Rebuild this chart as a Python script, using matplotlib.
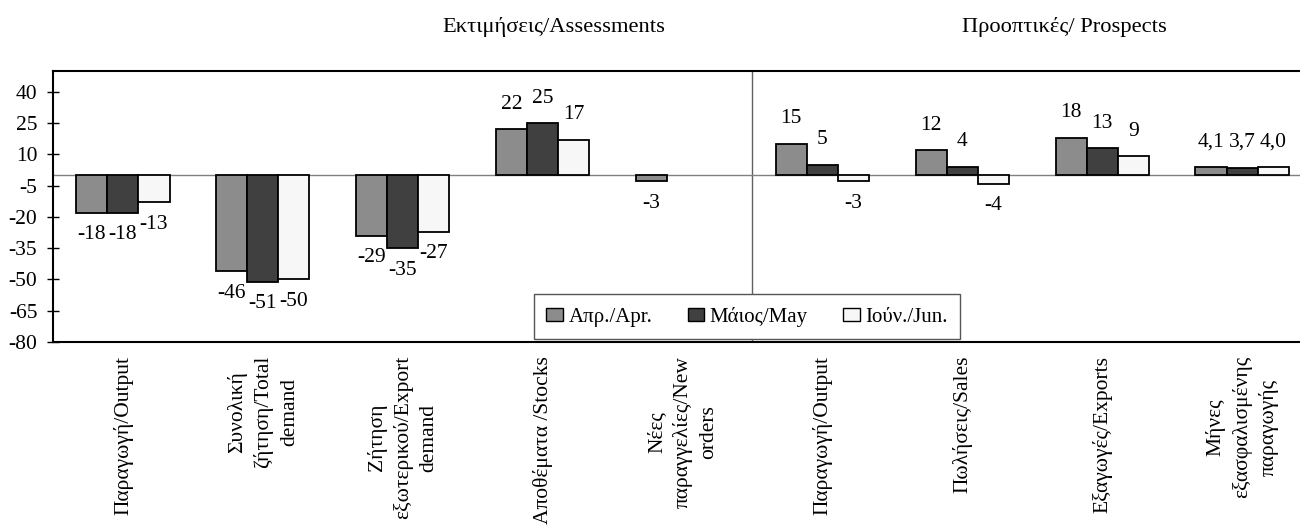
import numpy as np
import matplotlib
matplotlib.use('Agg')
import matplotlib.pyplot as plt
from matplotlib.patches import Patch

plt.rcParams['font.family'] = ['Liberation Serif', 'DejaVu Serif']
plt.rcParams['axes.unicode_minus'] = False

categories = ["Παραγωγή/Output",
              "Συνολική\nζήτηση/Total\ndemand",
              "Ζήτηση\nεξωτερικού/Export\ndemand",
              "Αποθέματα /Stocks",
              "Νέες\nπαραγγελίες/New\norders",
              "Παραγωγή/Output",
              "Πωλήσεις/Sales",
              "Εξαγωγές/Exports",
              "Μήνες\nεξασφαλισμένης\nπαραγωγής"]
series_names = ["Απρ./Apr.", "Μάιος/May", "Ιούν./Jun."]
apr = [-18, -46, -29, 22, -3, 15, 12, 18, 4.1]
may = [-18, -51, -35, 25, np.nan, 5, 4, 13, 3.7]
jun = [-13, -50, -27, 17, np.nan, -3, -4, 9, 4.0]
decimals = [0, 0, 0, 0, 0, 0, 0, 0, 1]
yticks = [-80, -65, -50, -35, -20, -5, 10, 25, 40]
section_titles = ["Εκτιμήσεις/Assessments", "Προοπτικές/ Prospects"]

colors = ['#8c8c8c', '#404040', '#f7f7f7']
W, H = 1300, 525
fig = plt.figure(figsize=(13, 5.25), dpi=100)
ax = fig.add_axes([53/W, 183/H, 1259/W, 271/H])

x = np.arange(len(categories))
bw = 0.222
for i, vals in enumerate([apr, may, jun]):
    vals = np.array(vals, dtype=float)
    pos = x + (i - 1) * bw
    ax.bar(pos, vals, bw, color=colors[i], edgecolor='black', linewidth=1.3, zorder=3)
    for p, v, d in zip(pos, vals, decimals):
        if np.isnan(v):
            continue
        txt = f"{v:.{d}f}".replace('.', ',')
        off = 25 if v > 0 else -22
        ax.annotate(txt, (p, v), xytext=(0, off), textcoords='offset pixels',
                    ha='center', va='center', fontsize=15.5)

ax.axhline(0, color='#808080', lw=1, zorder=2)
ax.axvline(4.5, color='#606060', lw=1, zorder=1)
ax.set_xlim(-0.5, 8.5)
ax.set_ylim(-80, 50)
ax.set_yticks(yticks)
ax.tick_params(axis='y', direction='inout', length=8.5, width=1, labelsize=15.5, pad=7)
ax.set_xticks(x)
ax.set_xticklabels(categories, rotation=90, fontsize=15.5, multialignment='center',
                   linespacing=1.45)
ax.tick_params(axis='x', length=0, pad=10)
for s in ['left', 'top', 'bottom']:
    ax.spines[s].set_linewidth(1.5)
ax.spines['right'].set_visible(False)

handles = [Patch(facecolor=c, edgecolor='black', linewidth=1) for c in colors]
leg = ax.legend(handles, series_names, ncol=3, loc='lower left',
                bbox_to_anchor=(0.382, 0.01), fontsize=15, frameon=True,
                fancybox=False, edgecolor='#555555', framealpha=1,
                handlelength=0.8, handleheight=0.55, handletextpad=0.25,
                columnspacing=1.7, borderpad=0.6, borderaxespad=0)
leg.get_frame().set_linewidth(1)
leg.set_zorder(5)

fig.text(554/W, 1 - 27/H, section_titles[0], ha='center', va='center', fontsize=16.2)
fig.text(1064/W, 1 - 27/H, section_titles[1], ha='center', va='center', fontsize=16.2)

fig.savefig('out.png', dpi=100)
